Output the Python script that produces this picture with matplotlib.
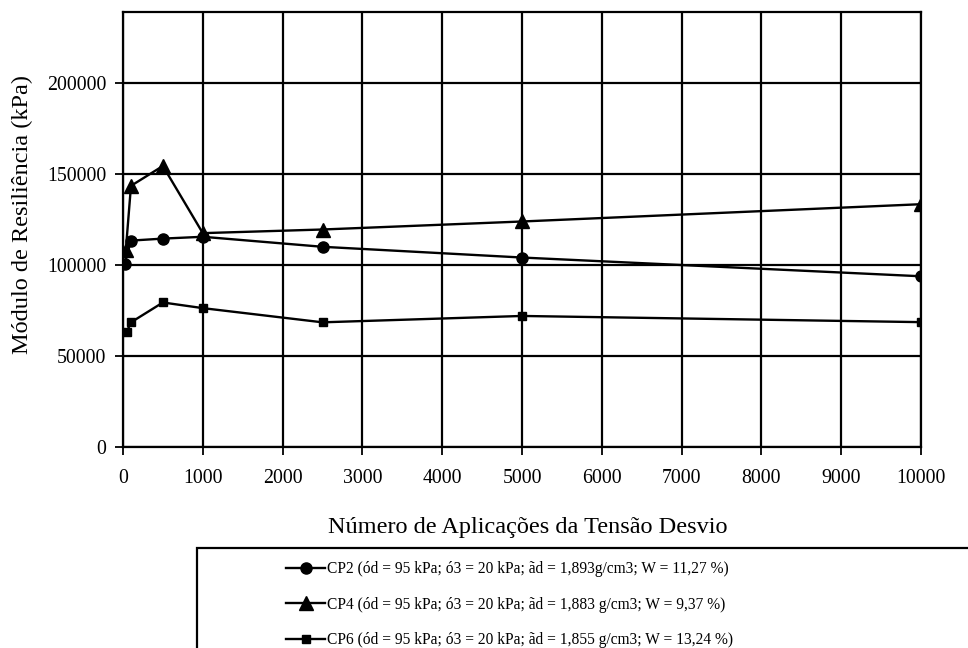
import matplotlib
matplotlib.use('Agg')
import matplotlib.pyplot as plt
from matplotlib.patches import Rectangle

plt.rcParams['font.family'] = ['Liberation Serif', 'DejaVu Serif']

# numero de aplicacoes
cp2_n = [20, 100, 500, 1000, 2500, 5000, 10000]
cp4_n = [35, 100, 500, 1000, 2500, 5000, 10000]
cp6_n = [45, 100, 500, 1000, 2500, 5000, 10000]

# modulo de resiliencia (kPa)
cp2_mr = [100600, 113400, 114500, 115500, 110000, 104100, 93800]
cp4_mr = [108000, 143500, 154400, 117500, 119500, 123900, 133400]
cp6_mr = [63100, 68500, 79400, 76300, 68500, 72000, 68600]

labels = ['CP2 (ód = 95 kPa; ó3 = 20 kPa; ãd = 1,893g/cm3; W = 11,27 %)',
          'CP4 (ód = 95 kPa; ó3 = 20 kPa; ãd = 1,883 g/cm3; W = 9,37 %)',
          'CP6 (ód = 95 kPa; ó3 = 20 kPa; ãd = 1,855 g/cm3; W = 13,24 %)']

W, H = 968, 648
fig = plt.figure(figsize=(W / 100, H / 100), dpi=100)
ax = fig.add_axes([123 / W, 1 - 447 / H, (921 - 123) / W, (447 - 12) / H])

l1, = ax.plot(cp2_n, cp2_mr, 'k-', marker='o', markersize=8, lw=1.7)
l2, = ax.plot(cp4_n, cp4_mr, 'k-', marker='^', markersize=9.5, lw=1.7)
l3, = ax.plot(cp6_n, cp6_mr, 'k-', marker='s', markersize=6, lw=1.7)

ax.set_xlim(0, 10000)
ax.set_ylim(0, 239000)
ax.set_xticks(range(0, 10001, 1000))
ax.set_yticks(range(0, 200001, 50000))
ax.grid(True, color='black', lw=1.6)
ax.set_axisbelow(True)
for s in ax.spines.values():
    s.set_linewidth(1.6)
ax.tick_params(direction='out', length=6, width=1.3, labelsize=14.3, pad=10)
ax.tick_params(axis='y', pad=6)

fig.text(22 / W, 1 - 214 / H, 'Módulo de Resiliência (kPa)', rotation=90,
         ha='center', va='center', fontsize=17.5)
fig.text(528 / W, 1 - 527 / H, 'Número de Aplicações da Tensão Desvio',
         ha='center', va='center', fontsize=17.5)

# caixa da legenda (cortada pela borda da figura)
fig.patches.append(Rectangle((197 / W, -0.2), 1.0, 0.2 + 1 - 548 / H,
                             transform=fig.transFigure, fill=False,
                             edgecolor='black', lw=1.6))
fig.legend([l1, l2, l3], labels, loc='upper left',
           bbox_to_anchor=(280 / W, 1 - 555 / H), frameon=False,
           fontsize=11.2, handlelength=2.5, handletextpad=0.1,
           labelspacing=1.25, borderaxespad=0)

fig.savefig('out.png', dpi=100)
